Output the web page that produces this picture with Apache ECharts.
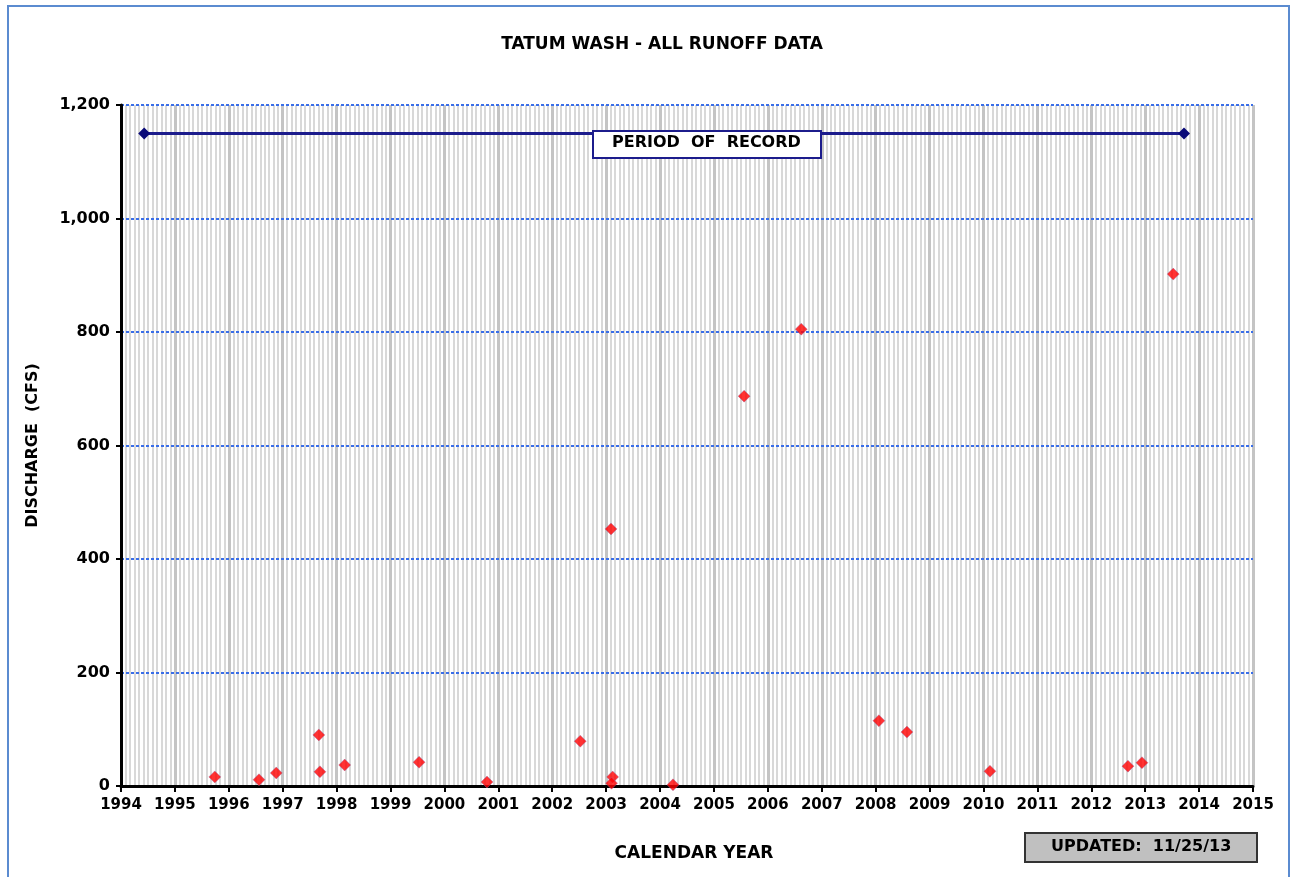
<!DOCTYPE html>
<html>
<head>
<meta charset="utf-8">
<script src="https://cdn.jsdelivr.net/npm/echarts@6/dist/echarts.min.js"></script>
<style>
  html, body { margin: 0; padding: 0; background: #fff; }
  #chart { width: 1291px; height: 877px; }
</style>
</head>
<body>
<div id="chart"></div>
<script>
// runoff events: decimal year and peak discharge (cfs)
const eventYears = [1995.74, 1996.56, 1996.88, 1997.67, 1997.69, 1998.15, 1999.53, 2000.79, 2002.52,
  2003.09, 2003.12, 2003.10, 2004.24, 2005.56, 2006.62, 2008.06, 2008.58, 2010.12, 2012.68, 2012.94, 2013.52];
const discharge = [16, 11, 23, 90, 25, 37, 42, 7, 79,
  453, 16, 5, 2, 687, 805, 115, 95, 26, 35, 41, 902];

// period of record bar
const recordYears = [1994.43, 2013.72];
const recordLevel = [1150, 1150];

const xMin = 1994, xMax = 2015;
const yMin = 0, yMax = 1200, yStep = 200;

const font = "'DejaVu Sans', 'Liberation Sans', sans-serif";

let myChart = echarts.init(document.getElementById("chart"));

let options = {
  animation: false,
  backgroundColor: "#fff",
  title: {
    text: "TATUM WASH - ALL RUNOFF DATA",
    left: 657,
    top: 31,
    textAlign: "center",
    textStyle: { fontFamily: font, fontSize: 17, fontWeight: "bold", color: "#000" },
  },
  grid: { left: 121, right: 38, top: 105, bottom: 91 },
  xAxis: {
    type: "value",
    min: xMin,
    max: xMax,
    interval: 1,
    z: 0,
    name: "CALENDAR YEAR",
    nameLocation: "middle",
    nameGap: 59,
    nameTextStyle: { fontFamily: font, fontSize: 17, fontWeight: "bold", color: "#000", padding: [0, 0, 0, 14] },
    axisLine: { show: true, onZero: false, lineStyle: { color: "#000", width: 3 } },
    axisTick: { show: true, length: 6, lineStyle: { color: "#000", width: 2 } },
    axisLabel: {
      fontFamily: font, fontSize: 15, fontWeight: "bold", color: "#000", margin: 12,
      formatter: (v) => String(v),
    },
    splitLine: { show: true, lineStyle: { color: "#c4c4c4", width: 3 } },
    minorTick: { show: false, splitNumber: 12 },
    minorSplitLine: { show: true, lineStyle: { color: "#cccccc", width: 1.5 } },
  },
  yAxis: {
    type: "value",
    min: yMin,
    max: yMax,
    interval: yStep,
    z: 2,
    name: "DISCHARGE  (CFS)",
    nameLocation: "middle",
    nameGap: 80,
    nameRotate: 90,
    nameTextStyle: { fontFamily: font, fontSize: 16, fontWeight: "bold", color: "#000" },
    axisLine: { show: true, lineStyle: { color: "#000", width: 3 } },
    axisTick: { show: true, length: 5, lineStyle: { color: "#000", width: 2 } },
    axisLabel: {
      fontFamily: font, fontSize: 16, fontWeight: "bold", color: "#000", margin: 11,
      formatter: (v) => v.toLocaleString("en-US"),
    },
    splitLine: {
      show: true,
      showMinLine: false,
      lineStyle: { color: "#3a6ee8", width: 2, type: [3, 2] },
    },
  },
  series: [
    {
      name: "Period of record",
      type: "line",
      data: recordYears.map((x, i) => [x, recordLevel[i]]),
      symbol: "diamond",
      symbolSize: 12,
      lineStyle: { color: "#1c1c8c", width: 3 },
      itemStyle: { color: "#0a0a78" },
      z: 3,
    },
    {
      name: "Runoff",
      type: "scatter",
      data: eventYears.map((x, i) => [x, discharge[i]]),
      symbol: "diamond",
      symbolSize: 12,
      itemStyle: { color: "#ff0000", borderColor: "#9a6aa8", borderWidth: 0.5 },
      z: 4,
    },
  ],
  graphic: [
    {
      type: "rect",
      shape: { x: 8, y: 6, width: 1281, height: 900 },
      style: { fill: "none", stroke: "#5b8bd0", lineWidth: 2 },
      silent: true,
      z: -1,
    },
    {
      type: "rect",
      left: 592,
      top: 130,
      z: 100,
      shape: { x: 0, y: 0, width: 228, height: 27 },
      style: { fill: "#fff", stroke: "#1c1c8c", lineWidth: 2 },
    },
    {
      type: "text",
      left: 612,
      top: 135,
      z: 101,
      style: {
        text: "PERIOD  OF  RECORD",
        fill: "#000",
        font: "bold 16px " + font,
      },
    },
    {
      type: "rect",
      left: 1024,
      top: 832,
      z: 100,
      shape: { x: 0, y: 0, width: 232, height: 29 },
      style: { fill: "#c0c0c0", stroke: "#333", lineWidth: 2 },
    },
    {
      type: "text",
      left: 1051,
      top: 839,
      z: 101,
      style: {
        text: "UPDATED:  11/25/13",
        fill: "#000",
        font: "bold 16px " + font,
      },
    },
  ],
};

myChart.setOption(options);
</script>
</body>
</html>
